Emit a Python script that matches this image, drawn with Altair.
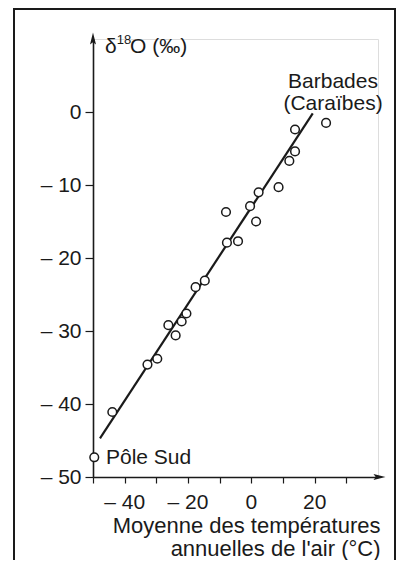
import altair as alt
import pandas as pd

FONT = "Liberation Sans, Arial, Helvetica, sans-serif"
INK = "#1a1a1a"

# Station data (temperature °C, delta18O permil)
temp = [23.6, 13.8, 13.8, 12.0, 8.6, 2.3, -8.0, -0.4, 1.5, -7.7, -4.2,
        -14.7, -17.6, -20.5, -22.0, -26.2, -23.9, -29.7, -32.8, -43.9, -49.6]
d18o = [-1.5, -2.4, -5.4, -6.7, -10.3, -11.0, -13.7, -12.9, -15.0, -17.9, -17.7,
        -23.1, -24.0, -27.6, -28.7, -29.2, -30.6, -33.8, -34.6, -41.1, -47.3]

# Regression line end points
fit_t = [-47.8, 19.4]
fit_d = [-44.7, -0.2]

# Axis ticks
x_ticks = [-50, -40, -30, -20, -10, 0, 10, 20, 30]
x_labeled = [-40, -20, 0, 20]
y_ticks = [0, -10, -20, -30, -40, -50]

# Annotations
ann_text = ["Barbades", "(Caraïbes)", "Pôle Sud"]
ann_t = [25.8, 25.8, -45.9]
ann_d = [3.3, 0.3, -48.2]
ann_align = ["center", "center", "left"]


def fmt(v):
    return ("\u2013 " + str(-v)) if v < 0 else str(v)


pts = pd.DataFrame({"t": temp, "d": d18o})
fit = pd.DataFrame({"t": fit_t, "d": fit_d})
ann = pd.DataFrame({"t": ann_t, "d": ann_d, "text": ann_text, "align": ann_align})
xlab = pd.DataFrame({"t": x_labeled, "d": [-50] * len(x_labeled),
                     "text": [fmt(v) for v in x_labeled]})

xs = alt.Scale(domain=[-50, 40], nice=False, zero=False)
ys = alt.Scale(domain=[-50, 10], nice=False, zero=False)

x_axis = alt.Axis(
    values=x_ticks, labels=False,
    title=["Moyenne des températures", "annuelles de l'air (°C)"],
    titleAnchor="end", titleAlign="right", titleFontSize=22, titleFontWeight="normal",
    titleLineHeight=23, titleX=287, titleY=55, titleBaseline="alphabetic",
    titleFont=FONT, titleColor=INK,
    tickSize=6, tickColor=INK, tickWidth=1.2, domainColor=INK, domainWidth=1.6,
    grid=False,
)
y_axis = alt.Axis(
    values=y_ticks,
    labelExpr="datum.value < 0 ? '\u2013 ' + (-datum.value) : '' + datum.value",
    title=None,
    labelFontSize=21, labelFont=FONT, labelColor=INK, labelPadding=4,
    tickSize=8, tickColor=INK, tickWidth=1.2, domainColor=INK, domainWidth=1.6,
    grid=False, labelFlush=False, labelOverlap=False,
)

X = alt.X("t:Q", scale=xs, axis=x_axis)
Y = alt.Y("d:Q", scale=ys, axis=y_axis)

line = alt.Chart(fit).mark_line(color=INK, strokeWidth=2.2).encode(x=X, y=Y)
points = alt.Chart(pts).mark_point(
    shape="circle", size=75, filled=True, fill="white", stroke=INK, strokeWidth=1.5, opacity=1
).encode(x=X, y=Y)

labels_c = alt.Chart(ann[ann["align"] == "center"]).mark_text(
    font=FONT, fontSize=21, color=INK, align="center", baseline="alphabetic"
).encode(x=X, y=Y, text="text:N")
labels_l = alt.Chart(ann[ann["align"] == "left"]).mark_text(
    font=FONT, fontSize=21, color=INK, align="left", baseline="alphabetic"
).encode(x=X, y=Y, text="text:N")

xticklabels = alt.Chart(xlab).mark_text(
    font=FONT, fontSize=21, color=INK, align="center", baseline="top", dy=15
).encode(x=X, y=Y, text="text:N")

# y-axis title: δ, superscript 18, O (‰)
title_df = pd.DataFrame({
    "t": [-46.2, -42.5, -38.3],
    "d": [8.1, 9.3, 8.1],
    "text": ["δ", "18", "O (‰)"],
    "size": [21, 13, 21],
})
ytitle = alt.Chart(title_df).mark_text(
    font=FONT, color=INK, align="left", baseline="alphabetic"
).encode(
    x=X, y=Y, text="text:N",
    size=alt.Size("size:Q", scale=None, legend=None),
)

# arrowheads at axis ends
arrow_up = alt.Chart(pd.DataFrame({"t": [-50], "d": [10]})).mark_point(
    shape="M0,-1L0.4,0.6L0,0.3L-0.4,0.6Z", size=225, filled=True, color=INK, opacity=1,
    yOffset=1,
).encode(x=X, y=Y)
arrow_right = alt.Chart(pd.DataFrame({"t": [40], "d": [-50]})).mark_point(
    shape="M1,0L-0.6,0.4L-0.3,0L-0.6,-0.4Z", size=225, filled=True, color=INK, opacity=1,
).encode(x=X, y=Y)

# figure frame (left, top, right; bottom runs off the picture)
frame_df = pd.DataFrame({"k": [0]})
frame = alt.Chart(frame_df).mark_rect(
    fill="white", fillOpacity=0, stroke=INK, strokeWidth=2
).encode(x=alt.value(-79), x2=alt.value(302), y=alt.value(-30), y2=alt.value(600))

chart = alt.layer(
    frame, line, points, labels_c, labels_l, xticklabels, ytitle,
    arrow_up, arrow_right
).properties(
    width=285, height=438,
    autosize=alt.AutoSizeParams(type="none"),
    padding={"left": 85, "top": 31, "right": 19, "bottom": 83},
).configure_view(stroke=None).configure(background="white")

chart.save("out.html", embed_options={"renderer": "svg", "actions": False})
